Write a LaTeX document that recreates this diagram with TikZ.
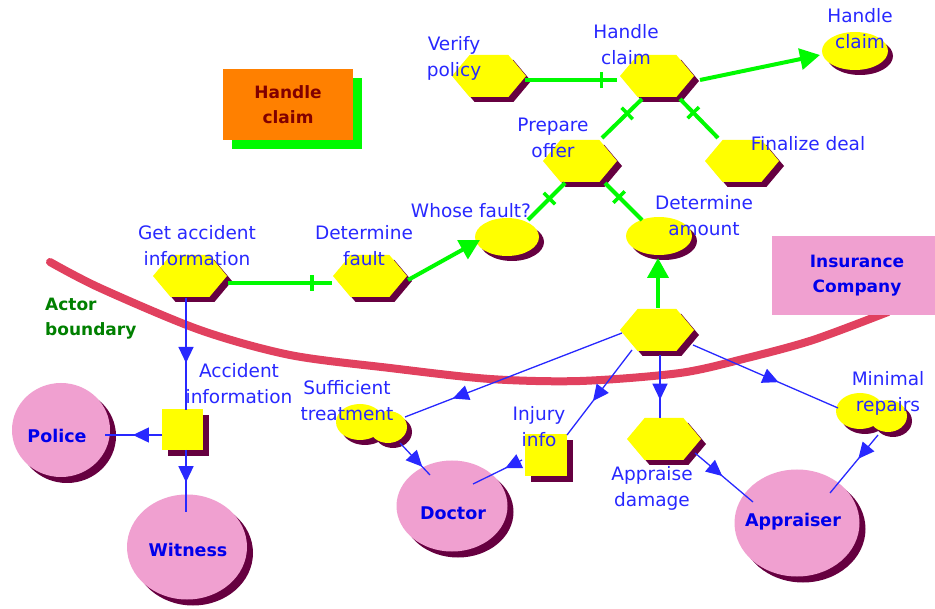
\documentclass[tikz,border=0pt]{standalone}
\usepackage{fontspec}
\setmainfont{DejaVu Sans}
\usetikzlibrary{shapes.symbols,shapes.geometric,shadows,arrows.meta,decorations.markings,calc}
\definecolor{hexy}{RGB}{255,255,0}
\definecolor{shd}{RGB}{102,0,64}
\definecolor{pinkc}{RGB}{240,160,208}
\definecolor{lblue}{RGB}{40,40,255}
\definecolor{bblue}{RGB}{0,0,235}
\definecolor{lgreen}{RGB}{0,250,0}
\definecolor{bnd}{RGB}{225,65,95}
\definecolor{orng}{RGB}{255,128,0}
\definecolor{dred}{RGB}{128,0,0}
\definecolor{dgreen}{RGB}{0,128,0}
\tikzset{
  shad/.style={drop shadow={shadow xshift=#1,shadow yshift=-#1,opacity=1,fill=shd}},
  hexnode/.style={signal, signal to=east and west, signal pointer angle=100,
    fill=hexy, minimum width=74pt, minimum height=42pt, inner sep=0pt, shad=5pt},
  ellnode/.style={ellipse, fill=hexy, minimum width=66pt, minimum height=38pt, inner sep=0pt, shad=5pt},
  resnode/.style={rectangle, fill=hexy, minimum size=41pt, inner sep=0pt, shad=6pt},
  actor/.style={ellipse, fill=pinkc, inner sep=0pt, shad=6pt, text=bblue,
    font=\bfseries\fontsize{17}{24}\selectfont},
  lbl/.style={text=lblue, font=\fontsize{18.5}{26}\selectfont, align=center, inner sep=0pt},
  gl/.style={lgreen, line width=4pt},
  tickat/.style={postaction={decorate}, decoration={markings,
     mark=at position #1 with {\draw[lgreen,line width=3.5pt] (0pt,-8pt)--(0pt,8pt);}}},
  garrow/.style={gl, -{Triangle[length=20pt,width=21pt]}},
  bl/.style={lblue, line width=1.3pt},
  midarrow/.style={postaction={decorate}, decoration={markings,
     mark=at position #1 with {\arrow{Triangle[length=16pt,width=15pt]}}}},
  anchorbox/.style={inner sep=0pt, minimum width=70pt, minimum height=38pt},
  softgoal/.pic={
    \begin{scope}[shift={(5,5)}]
      \fill[shd] (-12,-3) ellipse [x radius=24, y radius=18];
      \fill[shd] (16,2) ellipse [x radius=19, y radius=16];
    \end{scope}
    \fill[hexy] (-12,-3) ellipse [x radius=24, y radius=18];
    \fill[hexy] (16,2) ellipse [x radius=19, y radius=16];
  }
}
\begin{document}
\begin{tikzpicture}[x=1pt,y=-1pt]
\useasboundingbox[fill=white] (0,0) rectangle (935,609);

% actor boundary
\draw[bnd, line width=8pt, line cap=round] plot[smooth] coordinates
  {(50,262) (100,288) (200,330) (290,355) (390,368) (490,379) (580,381) (680,373) (747,358) (813,340) (888,312)};

% boxes
\node[rectangle, fill=pinkc, minimum width=170pt, minimum height=79pt, inner sep=0pt,
  text=bblue, font=\bfseries\fontsize{17}{25}\selectfont, align=center] (ic) at (857,275.5)
  {Insurance\\Company};
\node[rectangle, fill=orng, minimum width=130pt, minimum height=71pt, inner sep=0pt,
  drop shadow={shadow xshift=9pt,shadow yshift=-9pt,opacity=1,fill=lgreen},
  text=dred, font=\bfseries\fontsize{17}{25}\selectfont, align=center] (hcbox) at (288,104.5)
  {Handle\\claim};

% goals / tasks
\node[hexnode] (vp) at (489,76) {};
\node[hexnode] (hcl) at (657,76) {};
\node[ellnode] (hce) at (855,51) {};
\node[hexnode] (po) at (580,161) {};
\node[hexnode] (fd) at (742,161) {};
\node[ellnode, minimum width=64pt] (wf) at (507,237) {};
\node[ellnode] (da) at (659,236) {};
\node[hexnode] (mh) at (657,330) {};
\node[hexnode] (gai) at (190,276) {};
\node[hexnode] (df) at (370,276) {};
\node[hexnode] (ad) at (664,439) {};
\node[resnode] (ai) at (182,430) {};
\node[resnode, minimum size=42pt] (ii) at (546,455) {};
\pic at (372,425) {softgoal};
\node[anchorbox] (st) at (372,425) {};
\pic at (872,414) {softgoal};
\node[anchorbox] (mr) at (872,414) {};

% actors
\node[actor, minimum width=98pt, minimum height=94pt] (police) at (61,430) {};
\node[actor, minimum width=120pt, minimum height=105pt] (witness) at (187,547) {};
\node[actor, minimum width=111pt, minimum height=91pt] (doc) at (452,506) {};
\node[actor, minimum width=125pt, minimum height=107pt] (ap) at (797,523) {};
\node[text=bblue, font=\bfseries\fontsize{17.5}{24}\selectfont] at (57,436) {Police};
\node[text=bblue, font=\bfseries\fontsize{17.5}{24}\selectfont] at (188,550) {Witness};
\node[text=bblue, font=\bfseries\fontsize{17.5}{24}\selectfont] at (453,513) {Doctor};
\node[text=bblue, font=\bfseries\fontsize{17.5}{24}\selectfont] at (793,522) {Appraiser};

% green links
\draw[gl, tickat=0.83] ($(vp)+(36,4)$) -- ($(hcl)+(-40,4)$);
\draw[gl, tickat=0.37] ($(hcl)+(-15,23)$) -- ($(po)+(22,-23)$);
\draw[gl, tickat=0.35] ($(hcl)+(23,23)$) -- ($(fd)+(-24,-23)$);
\draw[gl, tickat=0.42] ($(po)+(-15,22)$) -- ($(wf)+(21,-17)$);
\draw[gl, tickat=0.38] ($(po)+(25,22)$) -- ($(da)+(-17,-16)$);
\draw[gl, tickat=0.81] ($(gai)+(38,7)$) -- ($(df)+(-38,7)$);
\draw[garrow] ($(hcl)+(43,4)$) -- ($(hce)+(-35,4)$);
\draw[garrow] ($(df)+(38,4)$) -- ($(wf)+(-27,3)$);
\draw[garrow] ($(mh)+(1,-22)$) -- ($(da)+(-1,22)$);

% blue dependencies
\draw[bl, midarrow=0.58] ($(gai)+(-4,22)$) -- ($(ai)+(4,-20)$);
\draw[bl, midarrow=0.51] ($(ai)+(-20,5)$) -- ($(police)+(44,5)$);
\draw[bl, midarrow=0.52] ($(ai)+(4,20)$) -- ($(witness)+(-1,-35)$);
\draw[bl, midarrow=0.78] ($(mh)+(-35,3)$) -- ($(st)+(33,-8)$);
\draw[bl, midarrow=0.60] ($(mh)+(-25,20)$) -- ($(ii)+(21,-20)$);
\draw[bl, midarrow=0.74] ($(st)+(28,18)$) -- ($(doc)+(-22,-31)$);
\draw[bl, midarrow=0.34] ($(ii)+(-24,5)$) -- ($(doc)+(21,-22)$);
\draw[bl, midarrow=0.71] ($(mh)+(3,25)$) -- ($(ad)+(-4,-21)$);
\draw[bl, midarrow=0.47] ($(ad)+(31,14)$) -- ($(ap)+(-44,-21)$);
\draw[bl, midarrow=0.59] ($(mh)+(36,15)$) -- ($(mr)+(-34,-6)$);
\draw[bl, midarrow=0.41] ($(mr)+(6,21)$) -- ($(ap)+(33,-30)$);

% labels
\node[lbl] (vpl) at (454,58) {Verify\\policy};
\node[lbl] (hcll) at (626,45) {Handle\\claim};
\node[lbl] (hcel) at (860,29) {Handle\\claim};
\node[lbl] (pol) at (553,138) {Prepare\\offer};
\node[lbl] (fdl) at (808,144) {Finalize deal};
\node[lbl] (wfl) at (471,211) {Whose fault?};
\node[lbl] (dal) at (704,216) {Determine\\amount};
\node[lbl] (gail) at (197,246) {Get accident\\information};
\node[lbl] (dfl) at (364,246) {Determine\\fault};
\node[lbl] (ail) at (239,384) {Accident\\information};
\node[lbl] (stl) at (347,401) {Sufficient\\treatment};
\node[lbl] (iil) at (539,427) {Injury\\info};
\node[lbl] (adl) at (652,488) {Appraise\\damage};
\node[lbl] (mrl) at (888,393) {Minimal\\repairs};
\node[text=dgreen, font=\bfseries\fontsize{17}{25}\selectfont, align=left, anchor=west, inner sep=0pt]
  (abl) at (45,319) {Actor\\boundary};
\end{tikzpicture}
\end{document}
